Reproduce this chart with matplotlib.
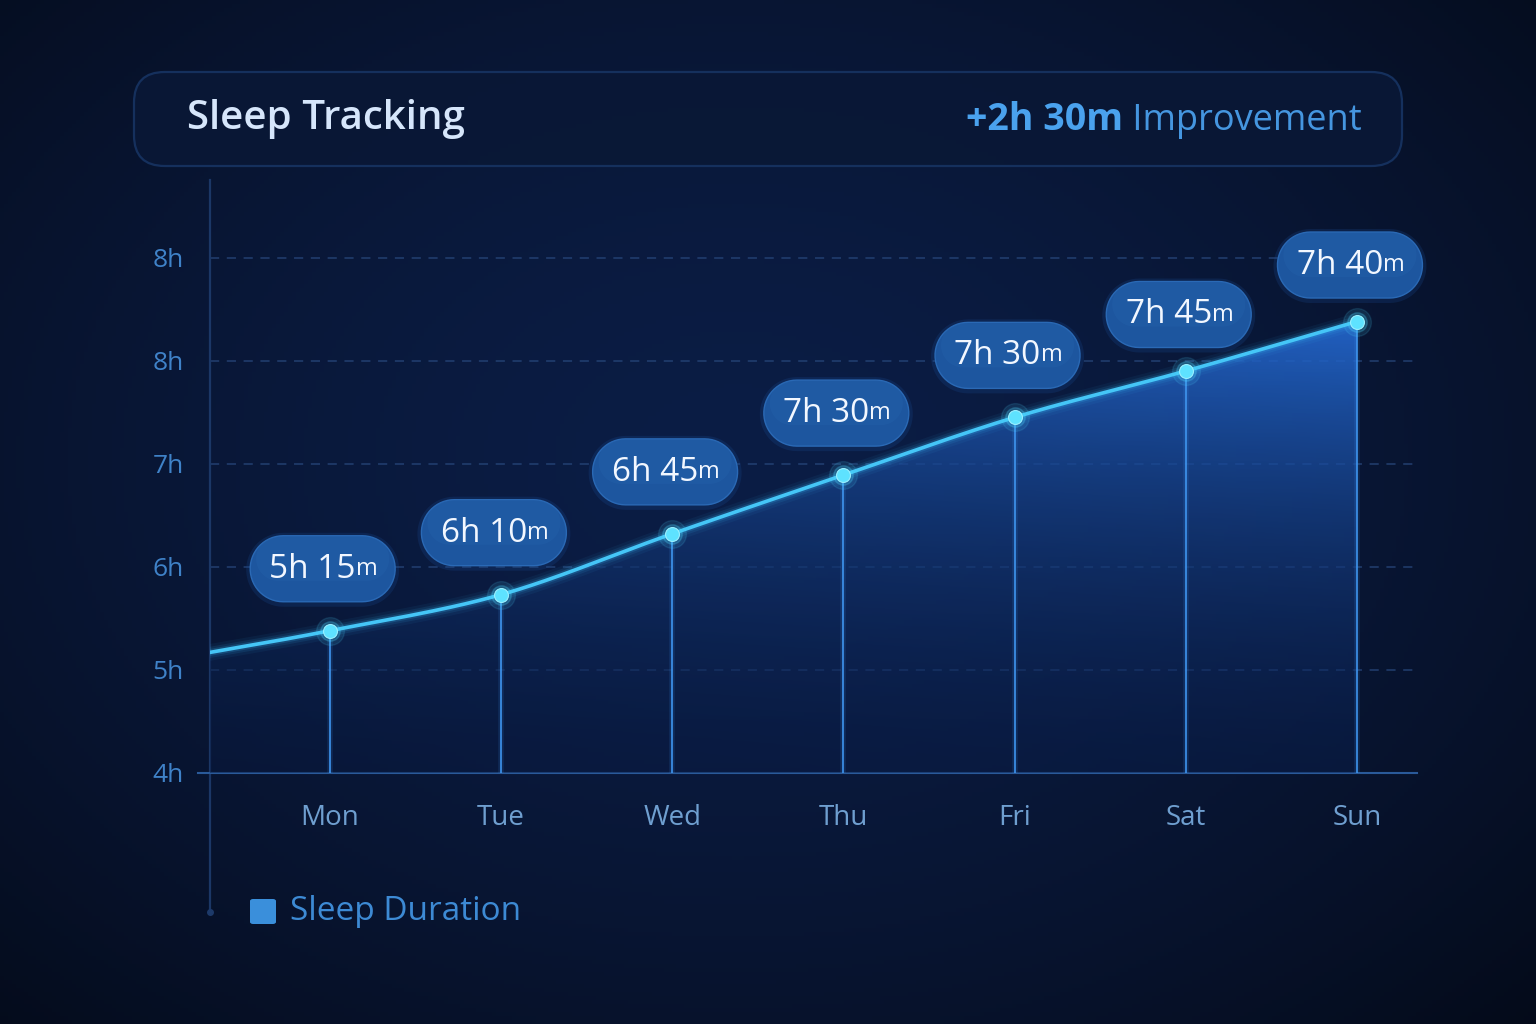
import numpy as np
import matplotlib
matplotlib.use("Agg")
import matplotlib.pyplot as plt
from matplotlib.patches import FancyBboxPatch
from matplotlib.transforms import ScaledTranslation
from matplotlib.path import Path
from matplotlib.patches import PathPatch

plt.rcParams['font.family'] = ['Open Sans', 'DejaVu Sans']

# ---------------- data ----------------
days = ["Mon", "Tue", "Wed", "Thu", "Fri", "Sat", "Sun"]
sleep_hours = [5.38, 5.73, 6.32, 6.89, 7.45, 7.90, 8.38]
bubble_main = ["5h 15", "6h 10", "6h 45", "7h 30", "7h 30", "7h 45", "7h 40"]
bubble_unit = ["m", "m", "m", "m", "m", "m", "m"]
lead_in_hours = 5.17          # where the line enters at the left edge
ytick_values = [4, 5, 6, 7, 8, 9]
ytick_labels = ["4h", "5h", "6h", "7h", "8h", "8h"]
title = "Sleep Tracking"
improve_bold = "+2h 30m"
improve_text = " Improvement"
legend_label = "Sleep Duration"

W, H, DPI = 15.36, 10.24, 100
fig = plt.figure(figsize=(W, H), dpi=DPI)

# ---------------- background ----------------
bg = fig.add_axes([0, 0, 1, 1], zorder=-10)
bg.set_axis_off()
yy, xx = np.mgrid[0:1:256j, 0:1:384j]
r = np.sqrt(((xx - 0.48) / 0.75) ** 2 + ((yy - 0.45) / 0.8) ** 2)
t = np.clip(r, 0, 1)
c_in = np.array([0x0b, 0x1d, 0x45]) / 255
c_out = np.array([0x04, 0x0a, 0x18]) / 255
img = c_in[None, None, :] * (1 - t[..., None] ** 1.6) + c_out[None, None, :] * (t[..., None] ** 1.6)
bg.imshow(img, extent=[0, 1, 0, 1], aspect='auto', origin='upper')
bg.set_xlim(0, 1)
bg.set_ylim(0, 1)


def fx(px):
    return px / 1536


def fy(py):
    return 1 - py / 1024


def pill_path(cx0, cy0, w, h, n=30):
    r_ = h / 2
    a1 = np.linspace(-np.pi / 2, np.pi / 2, n)
    right = np.column_stack([cx0 + w / 2 - r_ + r_ * np.cos(a1), cy0 + r_ * np.sin(a1)])
    a2 = np.linspace(np.pi / 2, 3 * np.pi / 2, n)
    left = np.column_stack([cx0 - w / 2 + r_ + r_ * np.cos(a2), cy0 + r_ * np.sin(a2)])
    v = np.vstack([right, left, right[:1]])
    return Path(v)


# header panel
hdr = FancyBboxPatch((fx(134), fy(166)), fx(1402) - fx(134), fy(72) - fy(166),
                     boxstyle="round,pad=0,rounding_size=0.02",
                     mutation_aspect=1.5,
                     transform=fig.transFigure, facecolor="#0a1836",
                     edgecolor="#163260", linewidth=1.6, alpha=0.95)
fig.add_artist(hdr)
fig.text(fx(187), fy(119), title, color="#d6e6fb", fontsize=29,
         ha='left', va='center', fontweight='semibold')
tb = fig.text(fx(1362), fy(121), improve_text, color="#4596e0", fontsize=26,
              ha='right', va='center')
fig.add_artist(plt.Annotation(improve_bold, xy=(0, 0), xycoords=tb,
                              ha='right', va='bottom', color="#4aa2ee",
                              fontsize=27, fontweight='bold',
                              annotation_clip=False))

# ---------------- chart axes ----------------
x_left, x_right = -0.699, 6.339
y_bot, y_top = 4.0, 9.2
ax = fig.add_axes([fx(210), fy(773), fx(1415) - fx(210), fy(237) - fy(773)])
ax.set_facecolor("none")
ax.set_xlim(x_left, x_right)
ax.set_ylim(y_bot, y_top)
for s in ax.spines.values():
    s.set_visible(False)
ax.tick_params(length=0)
ax.set_xticks(range(len(days)))
ax.set_xticklabels(days, color="#6f9fd0", fontsize=20)
ax.tick_params(axis='x', pad=22)
ax.set_yticks(ytick_values)
ax.set_yticklabels(ytick_labels, color="#3f82c8", fontsize=19)
ax.tick_params(axis='y', pad=19)

# grid lines
for v in ytick_values[1:]:
    ax.axhline(v, color="#27467a", lw=1.1, ls=(0, (6, 5)), alpha=0.85, zorder=1)
ax.plot([x_left - 0.07, x_right + 0.01], [4, 4], color="#2a5a9a", lw=1.5,
        zorder=2, clip_on=False)
# left vertical axis line with end dot
ax.plot([x_left, x_left], [y_top + 0.55, 2.65], color="#1b3766", lw=1.6,
        clip_on=False, zorder=1)
ax.plot([x_left], [2.65], 'o', color="#1d3a6a", ms=4, clip_on=False)

# ---------------- smooth curve (Catmull-Rom) ----------------
xs = np.array([x_left] + list(range(len(days))), dtype=float)
ys = np.array([lead_in_hours] + sleep_hours, dtype=float)
P = np.column_stack([xs, ys])
P_ext = np.vstack([2 * P[0] - P[1], P, 2 * P[-1] - P[-2]])
cx, cy = [], []
for i in range(1, len(P_ext) - 2):
    p0, p1, p2, p3 = P_ext[i - 1], P_ext[i], P_ext[i + 1], P_ext[i + 2]
    tt = np.linspace(0, 1, 40)[:, None]
    pts = 0.5 * ((2 * p1) + (-p0 + p2) * tt + (2 * p0 - 5 * p1 + 4 * p2 - p3) * tt ** 2
                 + (-p0 + 3 * p1 - 3 * p2 + p3) * tt ** 3)
    cx.extend(pts[:, 0])
    cy.extend(pts[:, 1])
cx = np.array(cx)
cy = np.array(cy)

# gradient fill under curve
verts = np.vstack([np.column_stack([cx, cy]),
                   [[cx[-1], y_bot], [cx[0], y_bot], [cx[0], cy[0]]]])
poly = PathPatch(Path(verts), facecolor='none', edgecolor='none',
                 transform=ax.transData)
ax.add_patch(poly)
gy, gx = np.mgrid[0:1:200j, 0:1:300j]
top_c = np.array([0x24, 0x68, 0xce]) / 255
bot_c = np.array([0x0a, 0x1e, 0x4a]) / 255
tv = gy[..., None]  # 0 at top row
k = (1 - tv) ** 1.4
grad = top_c * k + bot_c * (1 - k)
grad = grad * (0.85 + 0.22 * gx[..., None])
grad = np.clip(grad, 0, 1)
alpha = 0.45 + 0.45 * (1 - gy)
rgba = np.dstack([grad, alpha])
im = ax.imshow(rgba, extent=[x_left, x_right, y_bot, 8.5], aspect='auto',
               origin='upper', zorder=2)
im.set_clip_path(poly)

# drop lines
for i, v in enumerate(sleep_hours):
    ax.plot([i, i], [y_bot, v], color="#3c8ee8", lw=4, alpha=0.15, zorder=3)
    ax.plot([i, i], [y_bot, v], color="#3f95ef", lw=1.4, alpha=0.85, zorder=3)

# line with glow
for lw, a in [(12, 0.06), (8, 0.10), (5, 0.18)]:
    ax.plot(cx, cy, color="#38b8f5", lw=lw, alpha=a, solid_capstyle='round', zorder=4)
ax.plot(cx, cy, color="#45c6f7", lw=2.6, zorder=5, solid_capstyle='round')

# points with glow
ax.plot(range(len(days)), sleep_hours, 'o', color="#4fd8ff", ms=20, alpha=0.12, zorder=6)
ax.plot(range(len(days)), sleep_hours, 'o', color="#4fd8ff", ms=14, alpha=0.22, zorder=6)
ax.plot(range(len(days)), sleep_hours, 'o', color="#5ee2ff", ms=10, zorder=7,
        markeredgecolor="#9af0ff", markeredgewidth=0.8)

# ---------------- bubbles ----------------
bw, bh = 1.45, 0.66   # inches
for i, v in enumerate(sleep_hours):
    tr = fig.dpi_scale_trans + ScaledTranslation(i, v, ax.transData)
    cy_off = 0.62 if i < 5 else 0.565
    dx = -0.07
    ax.add_patch(PathPatch(pill_path(dx, cy_off - 0.01, bw + 0.08, bh + 0.08),
                           transform=tr, facecolor="#1b4f9a", edgecolor='none',
                           alpha=0.22, zorder=8, clip_on=False))
    ax.add_patch(PathPatch(pill_path(dx, cy_off, bw, bh),
                           transform=tr, facecolor="#1d569f", edgecolor="#2a69b5",
                           linewidth=1.0, zorder=9, clip_on=False))
    # subtle lighter upper half
    ax.add_patch(PathPatch(pill_path(dx, cy_off + 0.1, bw - 0.12, bh - 0.22),
                           transform=tr, facecolor="#2563ad", edgecolor='none',
                           alpha=0.35, zorder=9, clip_on=False))
    tmain = ax.text(dx - 0.1, cy_off - 0.005, bubble_main[i], transform=tr, color="#f2f7ff",
                    fontsize=24, ha='center', va='center', zorder=10, clip_on=False)
    ax.annotate(bubble_unit[i], xy=(1.0, 0.15), xycoords=tmain, ha='left', va='bottom',
                color="#f2f7ff", fontsize=17, zorder=10, annotation_clip=False)

# ---------------- legend ----------------
fig.add_artist(FancyBboxPatch((fx(250), fy(924)), fx(276) - fx(250), fy(899) - fy(924),
                              boxstyle="round,pad=0,rounding_size=0.002",
                              transform=fig.transFigure, facecolor="#3a8fdb",
                              edgecolor='none'))
fig.text(fx(290), fy(912), legend_label, color="#3d8ad4", fontsize=24,
         ha='left', va='center')

fig.savefig("out.png", dpi=DPI)
